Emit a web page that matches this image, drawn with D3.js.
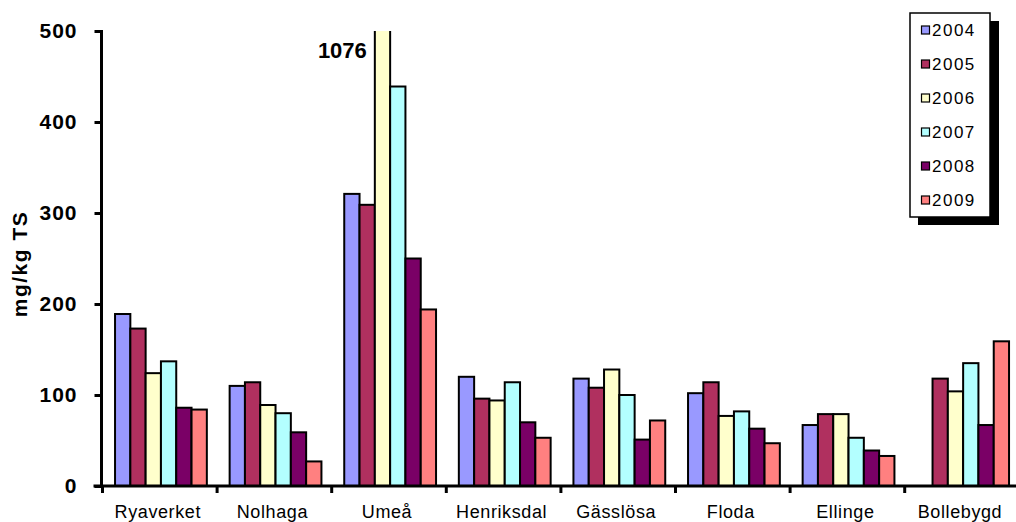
<!DOCTYPE html>
<html>
<head>
<meta charset="utf-8">
<script src="https://cdn.jsdelivr.net/npm/d3@7"></script>
<style>
  html, body { margin: 0; padding: 0; background: #fff; }
  svg { display: block; font-family: "Liberation Sans", Arial, sans-serif; }
</style>
</head>
<body>
<svg id="chart" width="1016" height="522"></svg>
<script>
// Plants along the x axis
const categories = ["Ryaverket", "Nolhaga", "Umeå", "Henriksdal", "Gässlösa", "Floda", "Ellinge", "Bollebygd"];
// Years (one bar per year in each group)
const years = ["2004", "2005", "2006", "2007", "2008", "2009"];
const yearColors = ["#9999FF", "#B0305F", "#FFFFCC", "#B3FFFF", "#7A0066", "#FF8080"];

// mg/kg TS per plant, one array per year (null = no value)
const v2004 = [189, 110, 321, 120, 118, 102, 67, null];
const v2005 = [173, 114, 309, 96, 108, 114, 79, 118];
const v2006 = [124, 89, 1076, 94, 128, 77, 79, 104];
const v2007 = [137, 80, 439, 114, 100, 82, 53, 135];
const v2008 = [86, 59, 250, 70, 51, 63, 39, 67];
const v2009 = [84, 27, 194, 53, 72, 47, 33, 159];
const seriesValues = [v2004, v2005, v2006, v2007, v2008, v2009];

const yTicks = [0, 100, 200, 300, 400, 500];
const yTitle = "mg/kg TS";

const svg = d3.select("#chart");

const axisX = 101.5, axisY = 486, topY = 31;
const step = 114.6;

const x = d3.scaleBand()
  .domain(categories)
  .range([axisX + 1, axisX + 1 + step * categories.length])
  .paddingInner(0).paddingOuter(0);

const xInner = d3.scaleBand()
  .domain(years)
  .range([0, step])
  .paddingInner(0)
  .paddingOuter(0.745)
  .align(0.55);

const y = d3.scaleLinear().domain([0, 500]).range([axisY, topY]).clamp(true);

// Plot area clip so off-scale bars are cut at the top of the value axis
svg.append("defs").append("clipPath").attr("id", "plotClip")
  .append("rect").attr("x", axisX).attr("y", topY).attr("width", 1016 - axisX).attr("height", axisY - topY + 2);

// Bars
const rows = [];
categories.forEach((c, i) => {
  years.forEach((yr, j) => {
    const v = seriesValues[j][i];
    if (v != null) rows.push({ c, yr, j, v });
  });
});

svg.append("g").attr("clip-path", "url(#plotClip)").selectAll("rect")
  .data(rows)
  .join("rect")
  .attr("x", d => x(d.c) + xInner(d.yr))
  .attr("y", d => d.v > 500 ? topY - 10 : y(d.v))
  .attr("width", xInner.bandwidth())
  .attr("height", d => axisY - (d.v > 500 ? topY - 10 : y(d.v)))
  .attr("fill", d => yearColors[d.j])
  .attr("stroke", "#000")
  .attr("stroke-width", 2);

// Value label for the off-scale bar
const over = rows.filter(d => d.v > 500);
svg.append("g").selectAll("text")
  .data(over)
  .join("text")
  .attr("x", d => x(d.c) + xInner(d.yr) - 8)
  .attr("y", 58)
  .attr("text-anchor", "end")
  .attr("font-size", 22)
  .attr("font-weight", "bold")
  .attr("fill", "#000")
  .text(d => d.v);

// Y axis
const yAxis = d3.axisLeft(y).tickValues(yTicks).tickSize(7).tickPadding(17).tickFormat(d3.format("d"));
const gy = svg.append("g").attr("transform", `translate(${axisX},0)`).call(yAxis);
gy.select(".domain").attr("stroke", "#000").attr("stroke-width", 3).attr("d", `M0,${topY - 1}V${axisY}`);
gy.selectAll(".tick line").attr("stroke", "#000").attr("stroke-width", 3);
gy.selectAll(".tick text")
  .attr("font-size", 21).attr("font-weight", "bold").attr("fill", "#000")
  .attr("letter-spacing", "1px").attr("font-family", "Liberation Sans, Arial, sans-serif");

// X axis
const boundaries = categories.map(c => x(c)).concat([x(categories[categories.length - 1]) + step]);
const gx = svg.append("g");
gx.append("line")
  .attr("x1", axisX - 8).attr("x2", 1016)
  .attr("y1", axisY).attr("y2", axisY)
  .attr("stroke", "#000").attr("stroke-width", 3);
gx.selectAll("line.tk")
  .data(boundaries)
  .join("line")
  .attr("class", "tk")
  .attr("x1", d => d).attr("x2", d => d)
  .attr("y1", axisY).attr("y2", axisY + 7)
  .attr("stroke", "#000").attr("stroke-width", 3);
gx.selectAll("text")
  .data(categories)
  .join("text")
  .attr("x", d => x(d) + step / 2 - 2)
  .attr("y", 518)
  .attr("text-anchor", "middle")
  .attr("font-size", 18)
  .attr("letter-spacing", "0.6px")
  .attr("fill", "#000")
  .text(d => d);

// Y axis title
svg.append("text")
  .attr("transform", "translate(27,264) rotate(-90)")
  .attr("text-anchor", "middle")
  .attr("font-size", 21)
  .attr("font-weight", "bold")
  .attr("letter-spacing", "1.5px")
  .attr("fill", "#000")
  .text(yTitle);

// Legend with drop shadow
const lg = svg.append("g");
lg.append("rect").attr("x", 918).attr("y", 21).attr("width", 81).attr("height", 204).attr("fill", "#000");
lg.append("rect").attr("x", 910).attr("y", 13).attr("width", 80).attr("height", 204)
  .attr("fill", "#fff").attr("stroke", "#000").attr("stroke-width", 1.5);
const rowY = d3.scalePoint().domain(years).range([30, 200]);
const items = lg.selectAll("g.item").data(years).join("g").attr("class", "item")
  .attr("transform", d => `translate(0,${rowY(d)})`);
items.append("rect")
  .attr("x", 921.5).attr("y", -4).attr("width", 8).attr("height", 8)
  .attr("fill", (d, i) => yearColors[i]).attr("stroke", "#000").attr("stroke-width", 1.2);
items.append("text")
  .attr("x", 932).attr("y", 6)
  .attr("font-size", 17)
  .attr("letter-spacing", "1.5px")
  .attr("fill", "#000")
  .text(d => d);
</script>
</body>
</html>
